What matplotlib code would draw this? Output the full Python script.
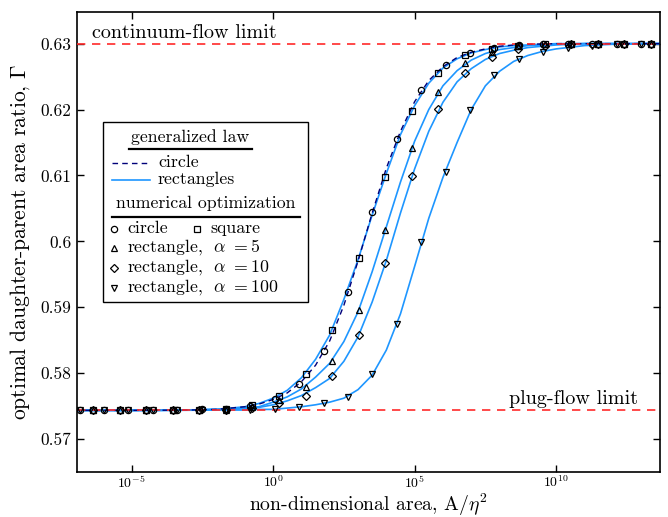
import numpy as np
import matplotlib
matplotlib.use("Agg")
import matplotlib.pyplot as plt
from matplotlib.lines import Line2D
from matplotlib.patches import Rectangle
from matplotlib.ticker import FuncFormatter

plt.rcParams['font.family'] = 'cmr10'
plt.rcParams['mathtext.fontset'] = 'cm'
plt.rcParams['axes.unicode_minus'] = False
plt.rcParams['axes.formatter.use_mathtext'] = True

# limits (plug flow / continuum flow)
plug_limit = 0.57435
continuum_limit = 0.6300

line_logA = [-7, -6, -5, -4, -3, -2, -1.5, -1, -0.5, 0, 0.5, 1, 1.5, 2, 2.5, 3, 3.5,
             4, 4.5, 5, 5.5, 6, 6.5, 7, 7.5, 8, 8.5, 9, 9.5, 10, 11, 12, 13, 14]
circle_law = [.57435, .57435, .57435, .57437, .5744, .5745, .5747, .5749, .5753, .5760,
              .5770, .5787, .5812, .5849, .5903, .5970, .6043, .6111, .6167, .6212,
              .6244, .6265, .6279, .6287, .6292, .6296, .6298, .6299, .62995, .6300,
              .6300, .6300, .6300, .6300]
square_law = [.57435, .57435, .57435, .57437, .5744, .5745, .5747, .5749, .5754, .5762,
              .5774, .5793, .5821, .5858, .5912, .5972, .6040, .6103, .6162, .6206,
              .6240, .6263, .6277, .6286, .6291, .6295, .6297, .6298, .6299, .6300,
              .6300, .6300, .6300, .6300]
a5_law = [.57435, .57435, .57435, .57436, .5744, .5745, .5746, .5747, .5749, .5756,
          .5764, .5776, .5794, .5815, .5848, .5893, .5954, .6022, .6090, .6152,
          .6200, .6236, .6259, .6275, .6285, .6291, .6294, .6297, .6298, .6299,
          .6300, .6300, .6300, .6300]
a10_law = [.57435, .57435, .57435, .57436, .5744, .5745, .5745, .5746, .5748, .5752,
           .5758, .5766, .5778, .5792, .5818, .5855, .5908, .5971, .6043, .6110,
           .6167, .6211, .6242, .6262, .6276, .6285, .6290, .6294, .6296, .6298,
           .6300, .6300, .6300, .6300]
a100_law = [.57435, .57435, .57435, .57435, .57437, .5744, .5744, .5744, .5745, .5745,
            .5747, .5749, .5752, .5756, .5762, .5775, .5797, .5835, .5890, .5962,
            .6035, .6097, .6150, .6200, .6236, .6258, .6273, .6282, .6288, .6292,
            .6297, .6299, .6300, .6300]

# numerical optimization results
circ_logA = [-6.84, -5.98, -5.12, -4.25, -3.39, -2.53, -1.67, -0.80, 0.06, 0.92, 1.79, 2.65,
             3.51, 4.37, 5.24, 6.10, 6.96, 7.82, 8.69, 9.55, 10.41, 11.27, 12.14, 13.00]
circ_G = [0.5744, 0.5744, 0.5744, 0.5744, 0.5744, 0.5745, 0.5746, 0.5750, 0.5761, 0.5784,
          0.5834, 0.5923, 0.6044, 0.6155, 0.6229, 0.6268, 0.6286, 0.6294, 0.6298, 0.6299,
          0.6300, 0.6300, 0.6300, 0.6300]
a100_G = [0.5744, 0.5744, 0.5744, 0.5744, 0.5744, 0.5744, 0.5744, 0.5744, 0.5745, 0.5749,
          0.5754, 0.5764, 0.5799, 0.5875, 0.5999, 0.6105, 0.6200, 0.6252, 0.6277, 0.6288,
          0.6294, 0.6297, 0.6299, 0.6300]

sq_logA = [-6.36, -5.42, -4.48, -3.54, -2.61, -1.67, -0.73, 0.21, 1.15, 2.09, 3.03,
           3.96, 4.90, 5.84, 6.78, 7.72, 8.66, 9.60, 10.53, 11.47, 12.41, 13.35]
sq_G = [0.5744, 0.5744, 0.5744, 0.5744, 0.5744, 0.5745, 0.5751, 0.5766, 0.5799, 0.5866, 0.5974,
        0.6098, 0.6198, 0.6255, 0.6282, 0.6292, 0.6297, 0.6299, 0.6300, 0.6300, 0.6300, 0.6300]
a5_G = [0.5744, 0.5744, 0.5744, 0.5744, 0.5744, 0.5744, 0.5748, 0.5759, 0.5779, 0.5819, 0.5896,
        0.6017, 0.6142, 0.6226, 0.6270, 0.6288, 0.6296, 0.6299, 0.6300, 0.6300, 0.6300, 0.6300]
a10_G = [0.5744, 0.5744, 0.5744, 0.5744, 0.5744, 0.5744, 0.5747, 0.5755, 0.5765, 0.5795, 0.5858,
         0.5967, 0.6099, 0.6201, 0.6256, 0.6280, 0.6292, 0.6297, 0.6299, 0.6300, 0.6300, 0.6300]

x_line = 10.0 ** np.array(line_logA)
x_circ = 10.0 ** np.array(circ_logA)
x_sq = 10.0 ** np.array(sq_logA)

W, H = 668, 517
fig = plt.figure(figsize=(W / 100, H / 100), dpi=100)
ax = fig.add_axes([77 / W, 1 - 472 / H, (660 - 77) / W, (472 - 12) / H])

blue = '#1e96ff'
navy = '#00007a'
red = '#ff2a2a'

for yy in [square_law, a5_law, a10_law, a100_law]:
    ax.plot(x_line, yy, color=blue, lw=1.2, zorder=2)
ax.plot(x_line, circle_law, color=navy, lw=1.0, ls=(0, (4, 3)), zorder=3)

ax.axhline(continuum_limit, color=red, lw=1.2, ls=(0, (5, 4)), zorder=4)
ax.axhline(plug_limit, color=red, lw=1.2, ls=(0, (5, 4)), zorder=4)

mk = dict(ls='none', mfc='none', mec='black', mew=0.9, ms=4.5, zorder=5)
ax.plot(x_circ, circ_G, marker='o', **mk)
ax.plot(x_sq, sq_G, marker='s', **mk)
ax.plot(x_sq, a5_G, marker='^', **mk)
ax.plot(x_sq, a10_G, marker='D', **dict(mk, ms=4))
ax.plot(x_circ, a100_G, marker='v', **mk)

ax.set_xscale('log')
ax.set_xlim(10 ** -6.93, 10 ** 13.67)
ax.set_ylim(0.565, 0.6348)
ax.set_xticks([1e-5, 1e0, 1e5, 1e10])
ax.xaxis.set_minor_locator(matplotlib.ticker.NullLocator())
ax.xaxis.set_major_formatter(FuncFormatter(lambda v, p: r'$10^{%d}$' % round(np.log10(v))))
ax.set_yticks([0.57, 0.58, 0.59, 0.60, 0.61, 0.62, 0.63])
ax.yaxis.set_major_formatter(FuncFormatter(lambda v, p: '%g' % round(v, 2)))
ax.tick_params(direction='in', top=True, right=True, length=5, width=1)
ax.tick_params(axis='x', labelsize=10, pad=2)
ax.tick_params(axis='y', labelsize=12.5, pad=4)
for s in ax.spines.values():
    s.set_linewidth(1.2)

fig.text((77 + 660) / 2 / W, 1 - 505 / H, r'non-dimensional area, A/$\eta^2$',
         fontsize=14.2, ha='center', va='center')
ax.set_ylabel(r'optimal daughter-parent area ratio, $\Gamma$', fontsize=15.5, labelpad=6)

ax.text(10 ** -6.4, continuum_limit + 0.0002, 'continuum-flow limit', fontsize=14.5,
        va='bottom', ha='left')
ax.text(10 ** 12.9, plug_limit + 0.0003, 'plug-flow limit', fontsize=14.5,
        va='bottom', ha='right')


# hand-built legend in figure pixels
def fp(x, y):
    return x / W, 1 - y / H


tr = fig.transFigure
x0, y0 = fp(103, 302)
x1, y1 = fp(308, 122)
fig.patches.append(Rectangle((x0, y0), x1 - x0, y1 - y0, transform=tr, fc='white',
                             ec='black', lw=1, zorder=10))
fs = 12.8

fig.text(*fp(190, 137), 'generalized law', ha='center', va='center', fontsize=fs, zorder=11)
fig.lines.append(Line2D(*zip(fp(129, 149), fp(252, 149)), transform=tr, color='black', lw=1.6, zorder=11))
fig.lines.append(Line2D(*zip(fp(112, 163), fp(150, 163)), transform=tr, color=navy, lw=1.0,
                        ls=(0, (4, 3)), zorder=11))
fig.text(*fp(158, 162), 'circle', va='center', fontsize=fs, zorder=11)
fig.lines.append(Line2D(*zip(fp(112, 180), fp(150, 180)), transform=tr, color=blue, lw=1.2, zorder=11))
fig.text(*fp(158, 179), 'rectangles', va='center', fontsize=fs, zorder=11)

fig.text(*fp(206, 203), 'numerical optimization', ha='center', va='center', fontsize=fs, zorder=11)
fig.lines.append(Line2D(*zip(fp(112, 217), fp(300, 217)), transform=tr, color='black', lw=1.6, zorder=11))

rows = [('o', 229, 'circle'), ('^', 248, r'rectangle,  $\alpha\ = 5$'),
        ('D', 268, r'rectangle,  $\alpha\ = 10$'), ('v', 288, r'rectangle,  $\alpha\ = 100$')]
for m, yp, lab in rows:
    fig.lines.append(Line2D([fp(114, yp)[0]], [fp(114, yp)[1]], transform=tr, marker=m,
                            ms=4 if m == 'D' else 4.5, mfc='none', mec='black', mew=0.9, zorder=11))
    fig.text(*fp(127, yp - 1), lab, va='center', fontsize=fs, zorder=11)
fig.lines.append(Line2D([fp(197, 229)[0]], [fp(197, 229)[1]], transform=tr, marker='s',
                        ms=4.5, mfc='none', mec='black', mew=0.9, zorder=11))
fig.text(*fp(210, 228), 'square', va='center', fontsize=fs, zorder=11)

fig.savefig('out.png', dpi=100)
